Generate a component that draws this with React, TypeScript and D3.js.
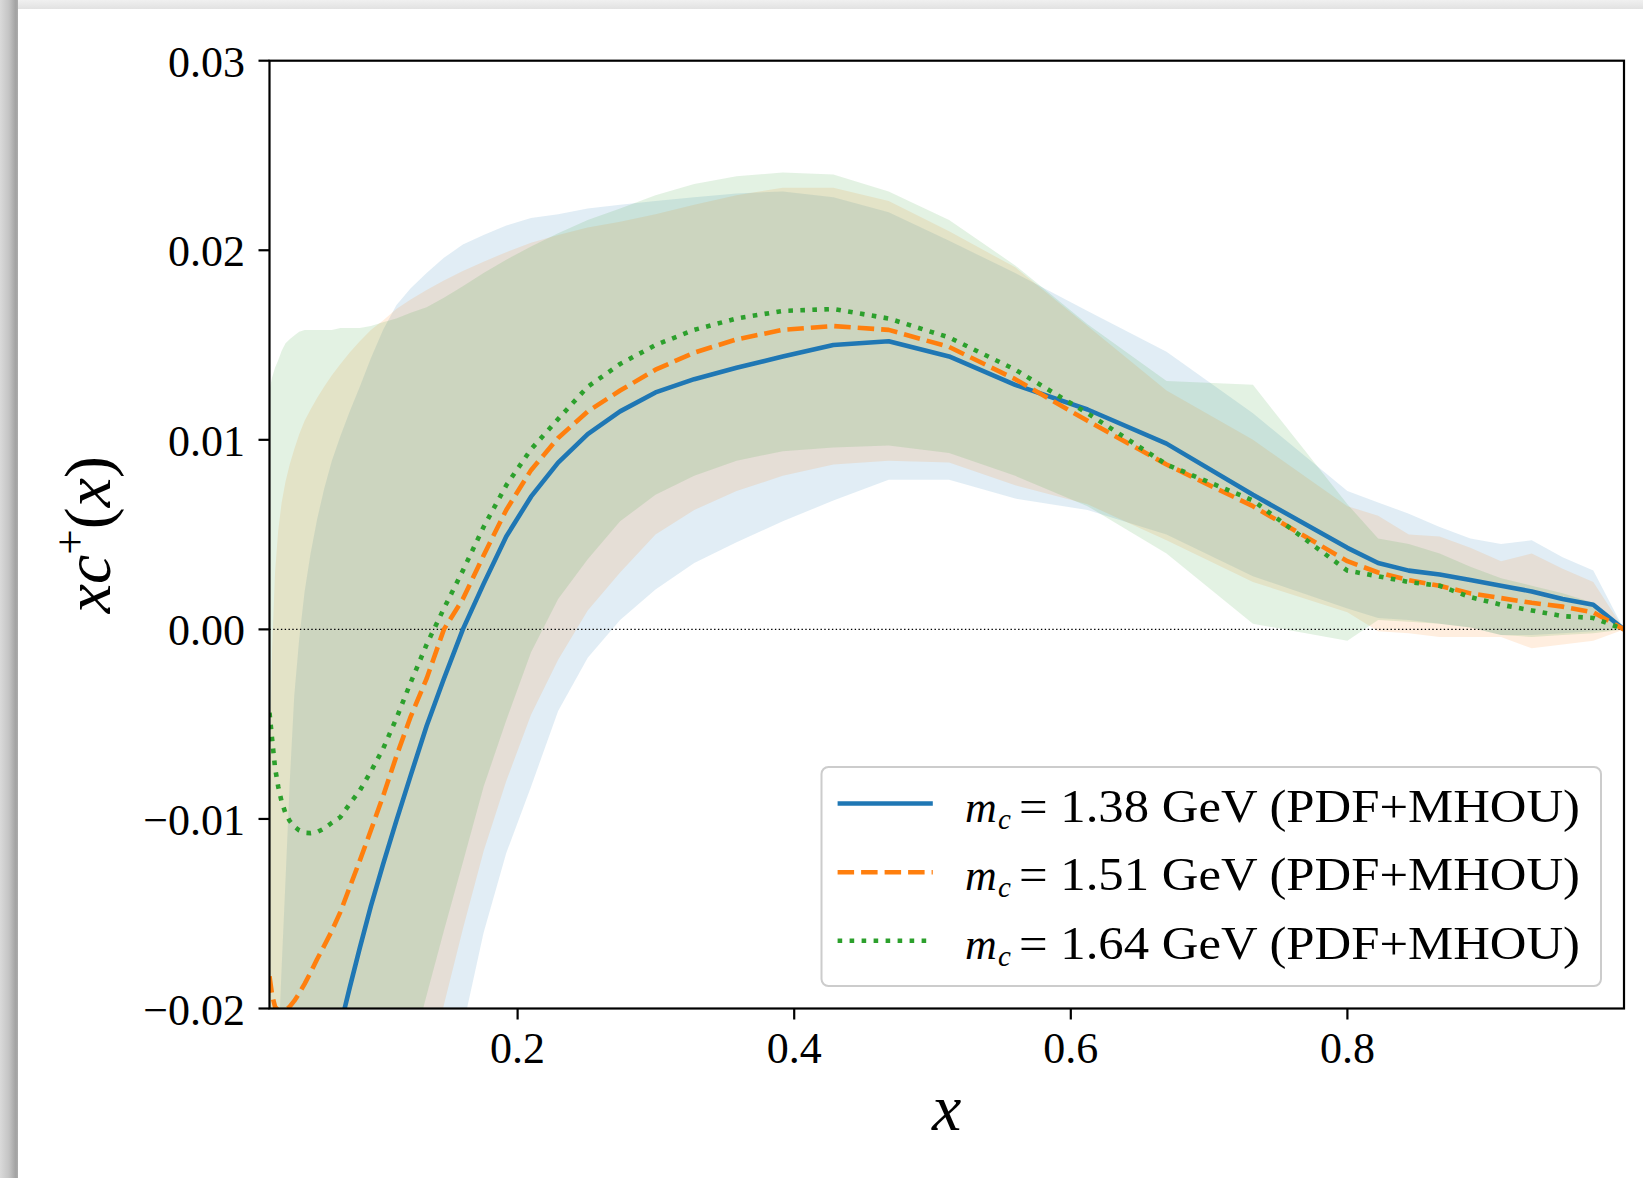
import React from "react";
import * as d3 from "d3";

// x grid of the PDF
const xs = [0.0206, 0.0225, 0.0246, 0.0269, 0.0294, 0.0322, 0.0352, 0.0385, 0.0421, 0.046, 0.0503, 0.055, 0.0601, 0.0657, 0.0719, 0.0786, 0.0859, 0.0939, 0.1027, 0.1123, 0.1227, 0.1342, 0.1467, 0.1604, 0.1754, 0.1918, 0.2097, 0.2293, 0.2507, 0.2741, 0.2997, 0.3277, 0.3583, 0.3917, 0.4283, 0.4683, 0.512, 0.5598, 0.6121, 0.6692, 0.7317, 0.8, 0.8222, 0.8444, 0.8667, 0.8889, 0.9111, 0.9333, 0.9556, 0.9778, 1.0];

// m_c = 1.38 GeV
const mc138 = [-0.043, -0.041, -0.04, -0.038, -0.037, -0.035, -0.034, -0.032, -0.031, -0.029, -0.028, -0.026, -0.0246, -0.0228, -0.0209, -0.0189, -0.0168, -0.0146, -0.0124, -0.0101, -0.0077, -0.0051, -0.0026, 0.0, 0.0024, 0.0049, 0.007, 0.0088, 0.0103, 0.0115, 0.0125, 0.0132, 0.0138, 0.0144, 0.015, 0.0152, 0.0144, 0.0129, 0.0116, 0.0098, 0.0071, 0.0043, 0.0035, 0.0031, 0.0029, 0.0026, 0.0023, 0.002, 0.0016, 0.0013, 0.0];
const mc138Lo = [-0.1, -0.098, -0.096, -0.094, -0.092, -0.09, -0.087, -0.084, -0.081, -0.078, -0.075, -0.072, -0.068, -0.064, -0.06, -0.057, -0.054, -0.051, -0.047, -0.042, -0.037, -0.032, -0.0267, -0.021, -0.016, -0.0118, -0.0083, -0.0043, -0.0015, 0.0005, 0.0021, 0.0035, 0.0046, 0.0057, 0.0068, 0.0079, 0.0079, 0.0069, 0.0063, 0.005, 0.0028, 0.0011, 0.0006, 0.0005, 0.0003, 0.0001, -0.0003, -0.0003, -0.0002, -0.0001, 0.0];
const mc138Hi = [-0.045, -0.037, -0.029, -0.0222, -0.0178, -0.0132, -0.0081, -0.0035, -0.0005, 0.002, 0.004, 0.0058, 0.0074, 0.0089, 0.0102, 0.0115, 0.0128, 0.0143, 0.0158, 0.0171, 0.018, 0.0188, 0.0196, 0.0203, 0.0208, 0.0213, 0.0217, 0.0219, 0.0222, 0.0224, 0.0226, 0.0228, 0.023, 0.0231, 0.0228, 0.022, 0.0205, 0.0188, 0.0168, 0.01465, 0.0114, 0.0073, 0.0067, 0.0061, 0.0054, 0.0048, 0.0045, 0.0047, 0.0038, 0.0031, 0.0];

// m_c = 1.51 GeV
const mc151 = [-0.0183, -0.0193, -0.0199, -0.0201, -0.0202, -0.0201, -0.0199, -0.0196, -0.0192, -0.0187, -0.0181, -0.0174, -0.0167, -0.0159, -0.0149, -0.0136, -0.0122, -0.0106, -0.0088, -0.0067, -0.0046, -0.0026, 0.0, 0.0016, 0.0039, 0.0063, 0.0084, 0.0101, 0.0115, 0.0126, 0.0137, 0.0146, 0.0153, 0.0158, 0.016, 0.0158, 0.0149, 0.0132, 0.011, 0.0087, 0.0065, 0.0036, 0.003, 0.0026, 0.0023, 0.0019, 0.00165, 0.0014, 0.0012, 0.0009, 0.0];
const mc151Lo = [-0.085, -0.083, -0.081, -0.079, -0.077, -0.074, -0.071, -0.068, -0.065, -0.062, -0.059, -0.056, -0.053, -0.05, -0.047, -0.044, -0.041, -0.038, -0.035, -0.031, -0.0272, -0.0235, -0.0198, -0.0158, -0.0117, -0.008, -0.0045, -0.0016, 0.001, 0.003, 0.005, 0.0063, 0.0073, 0.0081, 0.0087, 0.0089, 0.0088, 0.0076, 0.0066, 0.0047, 0.0025, 0.0009, -0.0001, -0.0002, -0.0004, -0.0004, -0.0004, -0.001, -0.0008, -0.0006, 0.0];
const mc151Hi = [-0.008, -0.001, 0.003, 0.0052, 0.0067, 0.0078, 0.0087, 0.0095, 0.0103, 0.011, 0.0116, 0.0122, 0.0128, 0.0134, 0.014, 0.0146, 0.0152, 0.0158, 0.0163, 0.0169, 0.0174, 0.0179, 0.0184, 0.0189, 0.0194, 0.0199, 0.0204, 0.0208, 0.0212, 0.0215, 0.0219, 0.0224, 0.0229, 0.0233, 0.0233, 0.0226, 0.021, 0.0191, 0.016, 0.0126, 0.01, 0.0065, 0.006, 0.005, 0.0049, 0.0043, 0.0036, 0.004, 0.0032, 0.0025, 0.0];

// m_c = 1.64 GeV
const mc164 = [-0.0044, -0.0058, -0.0073, -0.0083, -0.0091, -0.0097, -0.0101, -0.0104, -0.0106, -0.01073, -0.01075, -0.0107, -0.0105, -0.0102, -0.0099, -0.0092, -0.0085, -0.0075, -0.0063, -0.0047, -0.0028, -0.0008, 0.0011, 0.0031, 0.0054, 0.0076, 0.0095, 0.0111, 0.0128, 0.014, 0.015, 0.0158, 0.0164, 0.0168, 0.0169, 0.0164, 0.0154, 0.0137, 0.0114, 0.0087, 0.0068, 0.0031, 0.0028, 0.0025, 0.0023, 0.0017, 0.0013, 0.001, 0.0007, 0.0006, 0.0];
const mc164Lo = [-0.08, -0.078, -0.076, -0.074, -0.072, -0.07, -0.067, -0.064, -0.061, -0.058, -0.055, -0.052, -0.049, -0.046, -0.043, -0.04, -0.037, -0.034, -0.031, -0.0265, -0.0225, -0.0193, -0.0159, -0.0123, -0.0083, -0.0048, -0.0012, 0.0016, 0.0037, 0.0057, 0.0071, 0.0081, 0.0089, 0.0094, 0.0096, 0.0097, 0.0093, 0.0081, 0.0065, 0.004, 0.0003, -0.0006, 0.0005, 0.0004, 0.0003, 0.0001, -0.0003, -0.0004, -0.0003, -0.0002, 0.0];
const mc164Hi = [0.0126, 0.0133, 0.0138, 0.0142, 0.0147, 0.0151, 0.0153, 0.0155, 0.0157, 0.0158, 0.0158, 0.0158, 0.0158, 0.0158, 0.0159, 0.0159, 0.0159, 0.016, 0.0162, 0.0164, 0.0167, 0.017, 0.0175, 0.0181, 0.0188, 0.0195, 0.0202, 0.0209, 0.0216, 0.0222, 0.0229, 0.0235, 0.0239, 0.0241, 0.024, 0.0231, 0.0216, 0.0192, 0.0161, 0.0131, 0.0129, 0.0066, 0.0048, 0.0045, 0.004, 0.0033, 0.0027, 0.0023, 0.0019, 0.0014, 0.0];

const massLabels = ["1.38", "1.51", "1.64"];
const seriesColors = ["#1f77b4", "#ff7f0e", "#2ca02c"];
const seriesDash = ["none", "16.5 7", "4.6 7.4"];

const yTicks = [-0.02, -0.01, 0.0, 0.01, 0.02, 0.03];
const yTickLabels = ["\u22120.02", "\u22120.01", "0.00", "0.01", "0.02", "0.03"];
const xTicks = [0.2, 0.4, 0.6, 0.8];
const xTickLabels = ["0.2", "0.4", "0.6", "0.8"];

const FONT = "'Liberation Serif', 'Times New Roman', serif";

export default function App() {
  const W = 1643;
  const H = 1178;
  const left = 269.5, right = 1624, top = 60.7, bottom = 1008.5;

  const x = d3.scaleLinear().domain([xs[0], xs[xs.length - 1]]).range([left, right]);
  const y = d3.scaleLinear().domain([-0.02, 0.03]).range([bottom, top]);

  const areaPath = (lo: number[], hi: number[]) =>
    d3.area<number>()
      .x((_, i) => x(xs[i]))
      .y0((_, i) => y(lo[i]))
      .y1((_, i) => y(hi[i]))(xs) as string;
  const linePath = (v: number[]) =>
    d3.line<number>()
      .x((_, i) => x(xs[i]))
      .y((_, i) => y(v[i]))(xs) as string;

  const centrals = [mc138, mc151, mc164];
  const lows = [mc138Lo, mc151Lo, mc164Lo];
  const highs = [mc138Hi, mc151Hi, mc164Hi];

  const legendRowsY = [803.5, 872.3, 940.7];
  const LW = 4.6;

  return (
    <svg
      width={W}
      height={H}
      viewBox={`0 0 ${W} ${H}`}
      style={{ position: "absolute", left: 0, top: 0, display: "block" }}
      fontFamily={FONT}
    >
      <defs>
        <linearGradient id="leftShadow" x1="0" x2="1" y1="0" y2="0">
          <stop offset="0" stopColor="#dadada" />
          <stop offset="0.5" stopColor="#c4c4c4" />
          <stop offset="0.88" stopColor="#a2a2a2" />
          <stop offset="1" stopColor="#adadad" />
        </linearGradient>
        <linearGradient id="topShadow" x1="0" x2="0" y1="0" y2="1">
          <stop offset="0" stopColor="#f0f0f0" />
          <stop offset="1" stopColor="#e2e2e2" />
        </linearGradient>
        <clipPath id="plotClip">
          <rect x={left} y={top} width={right - left} height={bottom - top} />
        </clipPath>
      </defs>

      {/* page card with shadow */}
      <rect x={0} y={0} width={W} height={H} fill="#ffffff" />
      <rect x={0} y={0} width={W} height={9} fill="url(#topShadow)" />
      <rect x={0} y={0} width={18} height={H} fill="url(#leftShadow)" />
      <rect x={18} y={9} width={W - 18} height={H - 9} fill="#ffffff" />

      {/* bands */}
      <g clipPath="url(#plotClip)">
        {centrals.map((_, k) => (
          <path key={"b" + k} d={areaPath(lows[k], highs[k])} fill={seriesColors[k]} fillOpacity={0.135} stroke="none" />
        ))}
        {/* zero line */}
        <line x1={left} x2={right} y1={y(0)} y2={y(0)} stroke="#000" strokeWidth={1.3} strokeDasharray="1.4 2.4" />
        {centrals.map((v, k) => (
          <path
            key={"l" + k}
            d={linePath(v)}
            fill="none"
            stroke={seriesColors[k]}
            strokeWidth={LW}
            strokeDasharray={seriesDash[k]}
            strokeLinejoin="round"
          />
        ))}
      </g>

      {/* spines */}
      <rect x={left} y={top} width={right - left} height={bottom - top} fill="none" stroke="#000" strokeWidth={2.2} />

      {/* y ticks */}
      {yTicks.map((t, i) => (
        <g key={"yt" + i}>
          <line x1={left - 11} x2={left} y1={y(t)} y2={y(t)} stroke="#000" strokeWidth={2.2} />
          <text x={245} y={y(t) + 16} textAnchor="end" fontSize={44} fill="#000">
            {yTickLabels[i]}
          </text>
        </g>
      ))}

      {/* x ticks */}
      {xTicks.map((t, i) => (
        <g key={"xt" + i}>
          <line x1={x(t)} x2={x(t)} y1={bottom} y2={bottom + 11} stroke="#000" strokeWidth={2.2} />
          <text x={x(t)} y={1063} textAnchor="middle" fontSize={44} fill="#000">
            {xTickLabels[i]}
          </text>
        </g>
      ))}

      {/* axis labels */}
      <text x={(left + right) / 2} y={1130} textAnchor="middle" fontSize={66} fontStyle="italic" fill="#000">
        x
      </text>
      <text
        transform={`translate(110, ${(top + bottom) / 2}) rotate(-90)`}
        textAnchor="middle"
        fontSize={66}
        fill="#000"
      >
        <tspan fontStyle="italic">xc</tspan>
        <tspan dy={-25} fontSize={45}>+</tspan>
        <tspan dy={25}>(</tspan>
        <tspan fontStyle="italic">x</tspan>
        <tspan>)</tspan>
      </text>

      {/* legend */}
      <rect x={821.5} y={767} width={779.5} height={219} rx={7} ry={7} fill="#ffffff" fillOpacity={0.8} stroke="#cccccc" strokeWidth={2} />
      {massLabels.map((m, k) => {
        const ly = legendRowsY[k];
        return (
          <g key={"lg" + k}>
            <line x1={837.6} x2={932.8} y1={ly} y2={ly} stroke={seriesColors[k]} strokeWidth={LW} strokeDasharray={seriesDash[k]} />
            <text x={965} y={ly + 18} fontSize={44} fontStyle="italic" fill="#000">m</text>
            <text x={998} y={ly + 25} fontSize={29} fontStyle="italic" fill="#000">c</text>
            <text x={1019} y={ly + 18} fontSize={46} fill="#000" textLength={561} lengthAdjust="spacingAndGlyphs">
              {`= ${m} GeV (PDF+MHOU)`}
            </text>
          </g>
        );
      })}
    </svg>
  );
}
